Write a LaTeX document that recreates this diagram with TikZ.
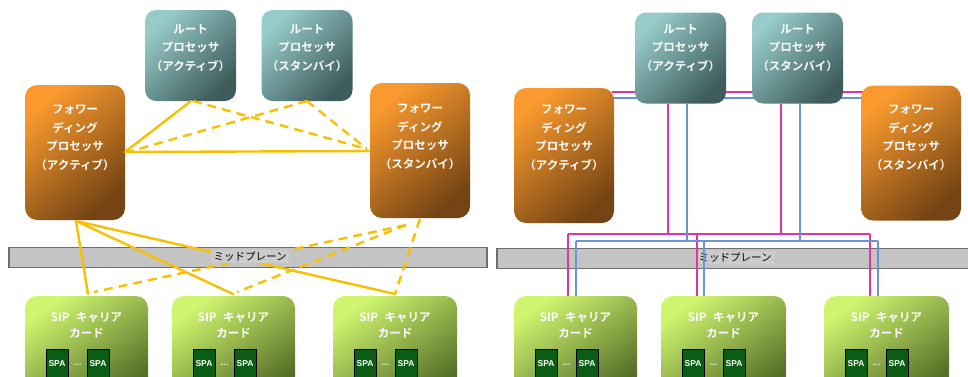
\documentclass[tikz,border=0pt]{standalone}
\usepackage{fontspec}
\setmainfont{Noto Sans CJK JP}[BoldFont={Noto Sans CJK JP Bold}]
\newfontfamily\spafont{Liberation Sans}
\definecolor{rpL}{HTML}{96CBC9}
\definecolor{rpD}{HTML}{3E5C5C}
\definecolor{fpL}{HTML}{FA9A2E}
\definecolor{fpM}{HTML}{DC7E24}
\definecolor{fpD}{HTML}{744414}
\definecolor{sipL}{HTML}{CFF56F}
\definecolor{sipM}{HTML}{A6C955}
\definecolor{sipD}{HTML}{566F28}
\definecolor{spaG}{HTML}{0B5C14}
\definecolor{midG}{HTML}{C4C4C5}
\definecolor{midB}{HTML}{6E6E6E}
\definecolor{labG}{HTML}{CBCBCC}
\definecolor{yel}{HTML}{F8C000}
\definecolor{pnk}{HTML}{E0359B}
\definecolor{blu}{HTML}{6B93D6}
\begin{document}
\begin{tikzpicture}[x=1pt,y=-1pt,
  rpbox/.style={rounded corners=11pt, top color=rpL, bottom color=rpD, shading angle=45, inner sep=0, minimum width=91pt, minimum height=91pt},
  fpbox/.style={rounded corners=12pt, top color=fpL, middle color=fpM, bottom color=fpD, shading angle=40, inner sep=0, minimum width=100pt, minimum height=135pt},
  sipbox/.style={rounded corners=12pt, top color=sipL, middle color=sipM, bottom color=sipD, shading angle=35, inner sep=0, minimum height=100pt},
  spabox/.style={fill=spaG, draw=black, line width=0.7pt, minimum width=22pt, minimum height=28.5pt, inner sep=0, text=white, font=\spafont\bfseries\fontsize{8.5}{9}\selectfont},
  dotsl/.style={text=white!90!green, font=\bfseries\fontsize{8}{8}\selectfont, inner sep=0},
  boxtext/.style={text=white, font=\bfseries\fontsize{11.5}{18.5}\selectfont, align=center, inner sep=0},
  siptext/.style={text=white, font=\bfseries\fontsize{11.5}{16}\selectfont, align=center, inner sep=0},
  midbox/.style={fill=midG, draw=midB, line width=1.3pt, inner sep=0, minimum height=20pt},
  midlabel/.style={fill=labG, text=black, font=\fontsize{10.5}{11}\selectfont, inner xsep=3pt, inner ysep=2pt},
  ysolid/.style={draw=yel, line width=2.4pt, line cap=round},
  ydash/.style={draw=yel, line width=2.4pt, dash pattern=on 9pt off 6pt},
  pline/.style={draw=pnk, line width=1.2pt},
  bline/.style={draw=blu, line width=2pt}
]
\clip (0,0) rectangle (968,376);
\fill[white] (0,0) rectangle (968,376);

% ---------------- right side top buses (behind boxes)
\coordinate (pTa) at (612,92);
\coordinate (pTb) at (863,92);
\coordinate (bTa) at (612,98);
\coordinate (bTb) at (863,98);
\draw[pline] (pTa) -- (pTb);
\draw[bline] (bTa) -- (bTb);

% ---------------- midplanes
\node[midbox, minimum width=478pt] (midL) at (248,257.5) {};
\node[midbox, minimum width=478pt] (midR) at (736,258.5) {};

% ---------------- left boxes
\node[rpbox] (rpaL) at (190.5,55.5) {};
\node[boxtext] (rpaLt) at (190.5,48) {ルート\\プロセッサ\\（アクティブ）};
\node[rpbox] (rpsL) at (307,55.5) {};
\node[boxtext] (rpsLt) at (307,48) {ルート\\プロセッサ\\（スタンバイ）};
\node[fpbox] (fpaL) at (75,152.5) {};
\node[boxtext] (fpaLt) at (75,138) {フォワー\\ディング\\プロセッサ\\（アクティブ）};
\node[fpbox] (fpsL) at (420,150.5) {};
\node[boxtext] (fpsLt) at (420,137) {フォワー\\ディング\\プロセッサ\\（スタンバイ）};

% ---------------- right boxes
\node[rpbox] (rpaR) at (680.5,58) {};
\node[boxtext] (rpaRt) at (680.5,48) {ルート\\プロセッサ\\（アクティブ）};
\node[rpbox] (rpsR) at (797.5,58) {};
\node[boxtext] (rpsRt) at (797.5,48) {ルート\\プロセッサ\\（スタンバイ）};
\node[fpbox] (fpaR) at (564,155.5) {};
\node[boxtext] (fpaRt) at (564,138) {フォワー\\ディング\\プロセッサ\\（アクティブ）};
\node[fpbox] (fpsR) at (911,153) {};
\node[boxtext] (fpsRt) at (911,138) {フォワー\\ディング\\プロセッサ\\（スタンバイ）};

% ---------------- SIP cards
\foreach \nm/\lx/\w in {c1L/25/123, c2L/172/123, c3L/333/124, c1R/514/123, c2R/661/125, c3R/824/125}{
  \node[sipbox, minimum width=\w pt] (\nm) at ({\lx+\w/2},{296+50}) {};
  \node[siptext] (\nm t) at ({\lx+\w/2},325) {SIP\hspace{4pt} キャリア\\カード};
  \node[spabox] (\nm sa) at ({\lx+32},363.25) {SPA};
  \node[spabox] (\nm sb) at ({\lx+73},363.25) {SPA};
  \node[dotsl] (\nm d) at ({\lx+52.5},365) {...};
}

% ---------------- left yellow connectors
\coordinate (yA1) at (125,152);
\coordinate (yA1d) at (128,152);
\coordinate (yA2) at (76,221);
\coordinate (yR1) at (191,101);
\coordinate (yR1d) at (193,101);
\coordinate (yR2) at (307,101);
\coordinate (yS1) at (369,151);
\coordinate (yS1d) at (367,149);
\coordinate (yS2) at (406,225);
\coordinate (yS3) at (420,219);
\coordinate (k1) at (88,294);
\coordinate (k1d) at (94,292);
\coordinate (k2) at (233,294);
\coordinate (k2d) at (237,292);
\coordinate (k3) at (395,294);

\draw[ysolid] (yA1) -- (yR1);
\draw[ysolid] (yA1) -- (yS1);
\draw[ysolid] (yA2) -- (k1);
\draw[ysolid] (yA2) -- (k2);
\draw[ysolid] (yA2) -- (k3);
\draw[ydash] (yR1d) -- (yS1d);
\draw[ydash] (yR2) -- (yA1d);
\draw[ydash] (yR2) -- (yS1d);
\draw[ydash] (yS2) -- (k1d);
\draw[ydash] (yS2) -- (k2d);
\draw[ydash] (yS3) -- (k3);

\node[midlabel] (midLt) at (250,256.5) {ミッドプレーン};

% ---------------- right pink / blue connectors
\node[midlabel] (midRt) at (735,257.5) {ミッドプレーン};
\coordinate (pA) at (668,103.5);
\coordinate (pS) at (781,103.5);
\coordinate (pb1) at (568,234);
\coordinate (pb2) at (697,234);
\coordinate (pb3) at (870,234);
\coordinate (bA) at (687,103.5);
\coordinate (bS) at (800,103.5);
\coordinate (bb1) at (576,241);
\coordinate (bb2) at (704,241);
\coordinate (bb3) at (878,241);

\draw[pline] (pA) -- (pA |- pb1);
\draw[pline] (pS) -- (pS |- pb1);
\draw[pline] (pb1) -- (pb3);
\draw[pline] (pb1) -- (pb1 |- c1R.north);
\draw[pline] (pb2) -- (pb2 |- c2R.north);
\draw[pline] (pb3) -- (pb3 |- c3R.north);
\draw[bline] (bA) -- (bA |- bb1);
\draw[bline] (bS) -- (bS |- bb1);
\draw[bline] (bb1) -- (bb3);
\draw[bline] (bb1) -- (bb1 |- c1R.north);
\draw[bline] (bb2) -- (bb2 |- c2R.north);
\draw[bline] (bb3) -- (bb3 |- c3R.north);
\end{tikzpicture}
\end{document}
